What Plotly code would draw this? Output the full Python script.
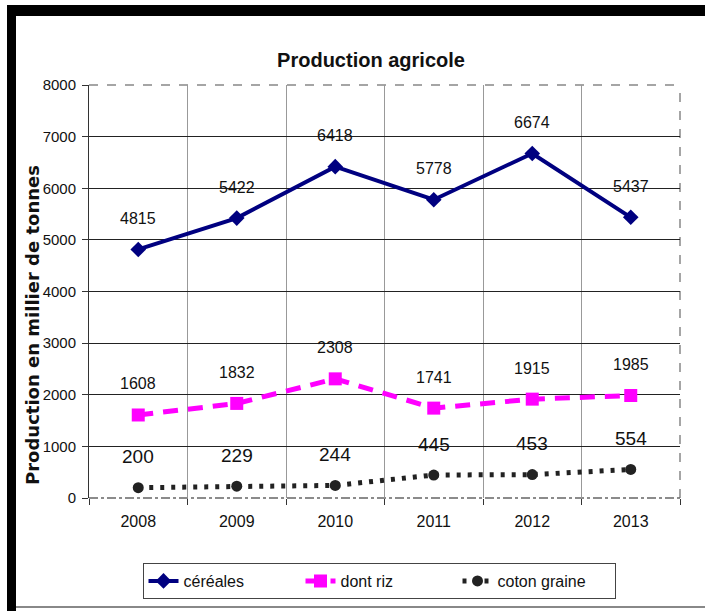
import plotly.graph_objects as go

# Production agricole, en milliers de tonnes
annees = ["2008", "2009", "2010", "2011", "2012", "2013"]
cereales = [4815, 5422, 6418, 5778, 6674, 5437]
riz = [1608, 1832, 2308, 1741, 1915, 1985]
coton = [200, 229, 244, 445, 453, 554]

W, H = 705, 611
ML, MR, MT, MB = 89, 25, 85, 113
PW, PH = W - ML - MR, H - MT - MB

NARROW = "Liberation Sans Narrow, Arial Narrow, Liberation Sans, Arial, sans-serif"


def px_x(x):
    return (x - ML) / PW


def px_y(y):
    return (H - MB - y) / PH


fig = go.Figure()

fig.add_trace(go.Scatter(
    x=annees, y=cereales, name="céréales", mode="lines+markers",
    line=dict(color="#000080", width=4),
    marker=dict(symbol="diamond", size=12, color="#000080"),
))
fig.add_trace(go.Scatter(
    x=annees, y=riz, name="dont riz", mode="lines+markers",
    line=dict(color="#FF00FF", width=5, dash="15px,10px"),
    marker=dict(symbol="square", size=13, color="#FF00FF"),
))
fig.add_trace(go.Scatter(
    x=annees, y=coton, name="coton graine", mode="lines+markers",
    line=dict(color="#222222", width=5, dash="4px,7px"),
    marker=dict(symbol="circle", size=11, color="#222222"),
))

# value labels above each point (category index on the x axis)
annotations = []
for serie, fsize in ((cereales, 16), (riz, 16), (coton, 19)):
    for i, v in enumerate(serie):
        annotations.append(dict(
            x=i, y=v, xref="x", yref="y", text=str(v), showarrow=False,
            xanchor="center", yanchor="middle",
            yshift=31, font=dict(family=NARROW, size=fsize, color="#111111"),
        ))

annotations.append(dict(
    x=px_x(32), y=px_y(325), xref="paper", yref="paper",
    xanchor="center", yanchor="middle",
    text="<b>Production en millier de tonnes</b>", textangle=-90,
    showarrow=False, font=dict(family="DejaVu Sans, Verdana, sans-serif", size=18, color="#111111"),
))

shapes = [
    # frame: top and left black bands, thin grey bottom rule
    dict(type="rect", xref="paper", yref="paper", x0=px_x(7), x1=px_x(W + 5),
         y0=px_y(16), y1=px_y(5), fillcolor="black", line=dict(width=0), layer="above"),
    dict(type="rect", xref="paper", yref="paper", x0=px_x(7), x1=px_x(16),
         y0=px_y(H + 5), y1=px_y(5), fillcolor="black", line=dict(width=0), layer="above"),
    dict(type="line", xref="paper", yref="paper", x0=px_x(16), x1=px_x(W + 5),
         y0=px_y(607), y1=px_y(607), line=dict(color="#888888", width=2)),
    # plot area borders
    dict(type="line", xref="paper", yref="paper", x0=0, x1=1, y0=1, y1=1,
         line=dict(color="#888888", width=1.5, dash="dash"), layer="below"),
    dict(type="line", xref="paper", yref="paper", x0=1, x1=1, y0=0, y1=1,
         line=dict(color="#888888", width=1.5, dash="dash"), layer="below"),
    dict(type="line", xref="paper", yref="paper", x0=0, x1=1, y0=0, y1=0,
         line=dict(color="#666666", width=1.5, dash="dashdot"), layer="below"),
]

fig.update_layout(
    width=W, height=H,
    margin=dict(l=ML, r=MR, t=MT, b=MB, pad=0),
    paper_bgcolor="white", plot_bgcolor="white",
    title=dict(
        text="<b>Production agricole</b>", xref="container", yref="container",
        x=371 / W, y=1 - 60 / H, xanchor="center", yanchor="middle",
        font=dict(family=NARROW, size=20, color="#111111"),
    ),
    xaxis=dict(
        type="category", tickson="boundaries", ticks="outside", ticklen=6,
        tickcolor="#333333", showgrid=True, gridcolor="#999999", gridwidth=1,
        showline=False, zeroline=False, ticklabelstandoff=12,
        tickfont=dict(family=NARROW, size=16, color="#111111"),
        range=[-0.5, 5.5],
    ),
    yaxis=dict(
        range=[0, 8000], dtick=1000, ticks="outside", ticklen=6, tickcolor="#333333",
        showgrid=True, gridcolor="#222222", gridwidth=1, zeroline=False,
        showline=True, linecolor="#333333", linewidth=1, ticklabelstandoff=3,
        tickfont=dict(family=NARROW, size=15, color="#111111"),
    ),
    legend=dict(
        orientation="h", x=px_x(379), y=px_y(563), xanchor="center", yanchor="top",
        bordercolor="#444444", borderwidth=1, bgcolor="white",
        font=dict(family=NARROW, size=16, color="#111111"),
        entrywidth=112, entrywidthmode="pixels",
    ),
    annotations=annotations,
    shapes=shapes,
    showlegend=True,
)

fig.write_html("out.html")
